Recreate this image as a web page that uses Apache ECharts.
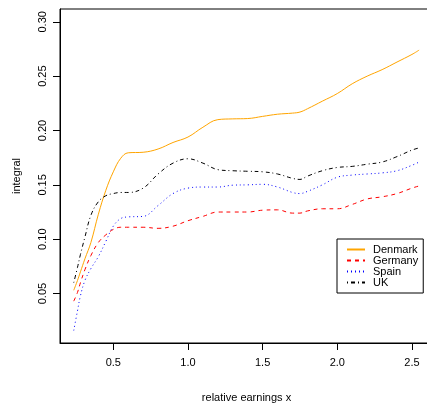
<!DOCTYPE html>
<html>
<head>
<meta charset="utf-8">
<script src="https://cdn.jsdelivr.net/npm/echarts@6/dist/echarts.min.js"></script>
<style>
html,body{margin:0;padding:0;background:#fff;}
#chart{width:427px;height:403px;}
</style>
</head>
<body>
<div id="chart"></div>
<script>
var xValues = [0.235,0.26,0.28,0.31,0.35,0.40,0.45,0.50,0.55,0.60,0.70,0.80,0.90,1.00,1.10,1.20,1.30,1.40,1.50,1.60,1.70,1.75,1.80,1.90,2.00,2.10,2.20,2.30,2.40,2.50,2.548];
var denmark = [0.053,0.062,0.070,0.082,0.097,0.123,0.145,0.162,0.1745,0.1795,0.180,0.183,0.189,0.194,0.203,0.210,0.2107,0.211,0.213,0.215,0.216,0.217,0.220,0.227,0.234,0.243,0.250,0.256,0.263,0.270,0.274];
var germany = [0.043,0.051,0.060,0.072,0.085,0.097,0.104,0.109,0.111,0.111,0.111,0.110,0.112,0.117,0.121,0.125,0.125,0.125,0.1267,0.127,0.124,0.124,0.126,0.128,0.128,0.132,0.137,0.139,0.142,0.147,0.149];
var spain = [0.016,0.034,0.048,0.062,0.073,0.084,0.098,0.112,0.119,0.1205,0.121,0.131,0.142,0.147,0.148,0.148,0.1497,0.150,0.1505,0.148,0.143,0.142,0.144,0.150,0.157,0.159,0.160,0.161,0.163,0.168,0.171];
var uk = [0.060,0.074,0.086,0.102,0.122,0.1345,0.140,0.142,0.143,0.143,0.147,0.160,0.170,0.174,0.170,0.164,0.163,0.1625,0.162,0.160,0.156,0.155,0.158,0.163,0.166,0.167,0.169,0.171,0.176,0.182,0.184];
var seriesNames = ['Denmark','Germany','Spain','UK'];
var xTicks = [0.5,1.0,1.5,2.0,2.5];
var yTicks = [0.05,0.10,0.15,0.20,0.25,0.30];

function pairs(ys){ return xValues.map(function(x,i){ return [x, ys[i]]; }); }

var FONT = 'Liberation Sans, Arial, Helvetica, sans-serif';
var chart = echarts.init(document.getElementById('chart'), null, {renderer:'canvas'});
var styles = [
  {color:'#FFA500', type:'solid'},
  {color:'#FF0000', type:[4,4]},
  {color:'#0000FF', type:[1,3]},
  {color:'#000000', type:[1,3,4,3]}
];
var dataSets = [denmark, germany, spain, uk];

chart.setOption({
  animation:false,
  backgroundColor:'#fff',
  grid:{left:60, top:9, right:-6, bottom:60, outerBoundsMode:'none', containLabel:false,
        show:true, borderColor:'#000', borderWidth:1, backgroundColor:'transparent'},
  xAxis:{
    type:'value', min:0.143, max:2.641,
    name:'relative earnings x', nameLocation:'middle', nameGap:49,
    nameTextStyle:{fontFamily:FONT, fontSize:11, color:'#000'},
    axisLine:{show:true, onZero:false, lineStyle:{color:'#000', width:1}},
    axisTick:{show:true, length:7, customValues:xTicks, lineStyle:{color:'#000'}},
    axisLabel:{customValues:xTicks, margin:14, fontFamily:FONT, fontSize:11, color:'#000',
      formatter:function(v){ return v.toFixed(1); }},
    splitLine:{show:false}
  },
  yAxis:{
    type:'value', min:0.0045, max:0.3118,
    name:'integral', nameLocation:'middle', nameGap:38,
    nameTextStyle:{fontFamily:FONT, fontSize:11, color:'#000'},
    axisLine:{show:true, onZero:false, lineStyle:{color:'#000', width:1}},
    axisTick:{show:true, length:7, customValues:yTicks, lineStyle:{color:'#000'}},
    axisLabel:{customValues:yTicks, rotate:90, margin:12, fontFamily:FONT, fontSize:11, color:'#000',
      formatter:function(v){ return v.toFixed(2); }},
    splitLine:{show:false}
  },
  legend:{
    orient:'vertical', left:337, top:239,
    data:seriesNames,
    itemWidth:18, itemHeight:11, itemGap:0,
    padding:[5,5,5,9],
    borderColor:'#000', borderWidth:1,
    itemStyle:{opacity:0},
    textStyle:{fontFamily:FONT, fontSize:11, color:'#000', lineHeight:11, padding:[0,0,0,3]}
  },
  series: seriesNames.map(function(n,i){
    return {
      name:n, type:'line', data:pairs(dataSets[i]), symbol:'none', smooth:0.4,
      lineStyle:{color:styles[i].color, width:1, type:styles[i].type},
      itemStyle:{color:styles[i].color}
    };
  })
});
</script>
</body>
</html>
